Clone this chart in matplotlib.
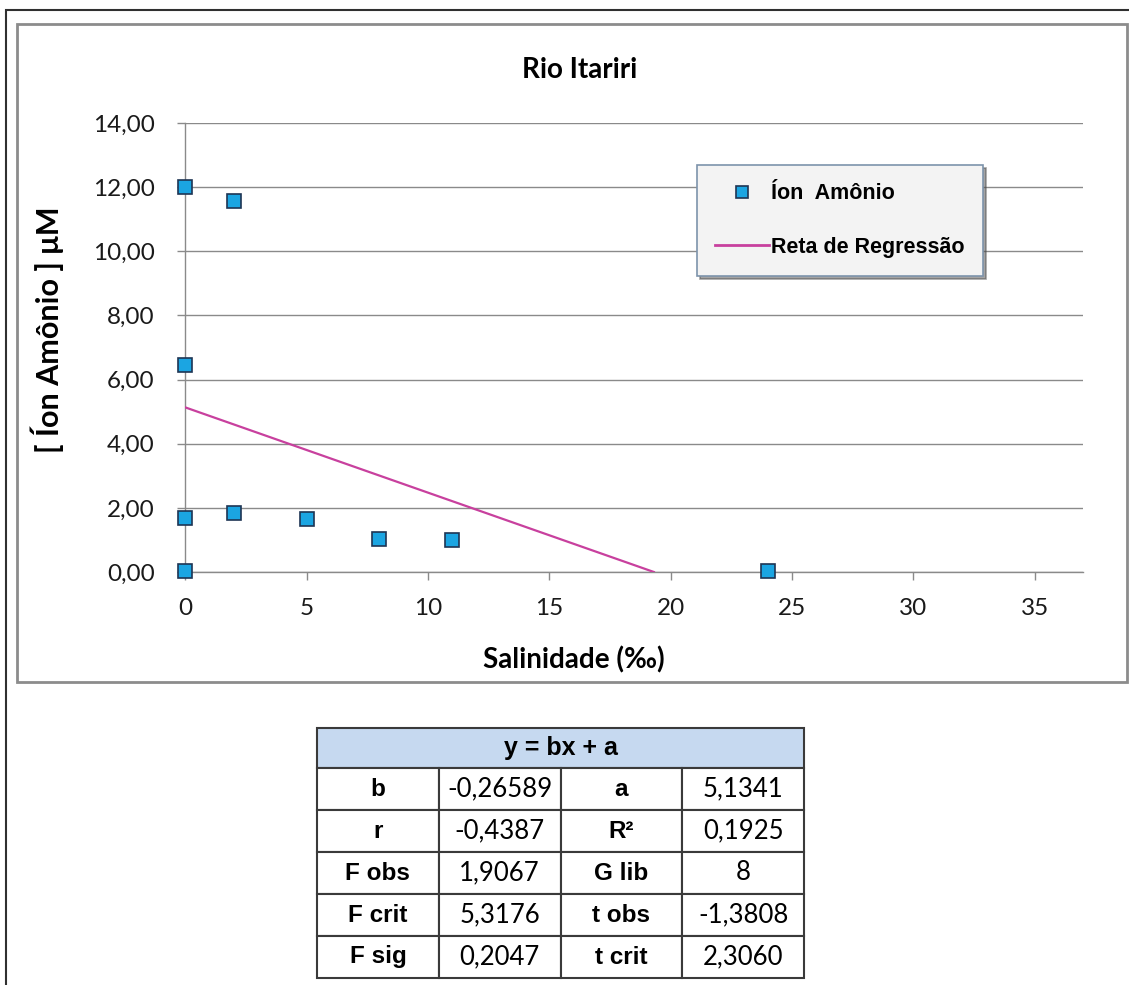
import matplotlib

matplotlib.use("Agg")

import matplotlib.pyplot as plt
import numpy as np
from matplotlib.lines import Line2D
from matplotlib.patches import Rectangle


TITLE = "Rio Itariri"
X_LABEL = "Salinidade (‰)"
Y_LABEL = "[ Íon Amônio ] μM"

SALINITY = [0, 2, 0, 0, 2, 5, 8, 11, 0, 24]
AMMONIUM = [12.0, 11.56, 6.47, 1.68, 1.84, 1.65, 1.03, 1.0, 0.04, 0.03]

SLOPE_B = -0.26589
INTERCEPT_A = 5.1341

X_TICKS = [0, 5, 10, 15, 20, 25, 30, 35]
Y_TICKS = [0, 2, 4, 6, 8, 10, 12, 14]

TABLE_HEADER = "y = bx + a"
TABLE_ROWS = [
    ["b", "-0,26589", "a", "5,1341"],
    ["r", "-0,4387", "R²", "0,1925"],
    ["F obs", "1,9067", "G lib", "8"],
    ["F crit", "5,3176", "t obs", "-1,3808"],
    ["F sig", "0,2047", "t crit", "2,3060"],
]

LEGEND_LABELS = ["Íon  Amônio", "Reta de Regressão"]

MARKER_FACE = "#1BA5E2"
MARKER_EDGE = "#1E3554"
LINE_COLOR = "#C8409E"
GRID_COLOR = "#8A8A8A"

NUM_FONT = "Lato"
BOLD_FONT = "Liberation Sans"


def main() -> None:
    fig = plt.figure(figsize=(11.29, 9.85), dpi=100)
    fig.patch.set_facecolor("white")

    # outer frame and chart area frame
    fig.patches.append(
        Rectangle(
            (6 / 1129, -0.2),
            1.2,
            0.2 + (985 - 10) / 985,
            transform=fig.transFigure,
            fill=False,
            edgecolor="#303030",
            linewidth=1.5,
        )
    )
    fig.patches.append(
        Rectangle(
            (17 / 1129, (985 - 682) / 985),
            (1127 - 17) / 1129,
            (682 - 24) / 985,
            transform=fig.transFigure,
            fill=False,
            edgecolor="#8C8C8C",
            linewidth=2,
        )
    )

    ax = fig.add_axes([0.1640, 0.4193, 0.7955, 0.4558])

    ax.plot(
        SALINITY,
        AMMONIUM,
        linestyle="none",
        marker="s",
        markersize=10,
        markerfacecolor=MARKER_FACE,
        markeredgecolor=MARKER_EDGE,
        markeredgewidth=1.2,
        clip_on=False,
        zorder=5,
    )

    x_line = np.array([0.0, -INTERCEPT_A / SLOPE_B])
    ax.plot(
        x_line,
        INTERCEPT_A + SLOPE_B * x_line,
        color=LINE_COLOR,
        linewidth=1.6,
        zorder=4,
    )

    ax.set_xlim(0, 37)
    ax.set_ylim(0, 14)
    ax.set_xticks(X_TICKS)
    ax.set_yticks(Y_TICKS)
    ax.set_xticklabels([str(t) for t in X_TICKS])
    ax.set_yticklabels([f"{t:.2f}".replace(".", ",") for t in Y_TICKS])

    for side in ["top", "right"]:
        ax.spines[side].set_visible(False)
    for side in ["left", "bottom"]:
        ax.spines[side].set_color(GRID_COLOR)
        ax.spines[side].set_linewidth(1)

    ax.tick_params(
        axis="both",
        direction="out",
        length=6,
        width=1,
        color=GRID_COLOR,
        labelsize=17.5,
        labelcolor="#1A1A1A",
    )
    ax.tick_params(axis="y", pad=16)
    ax.tick_params(axis="x", pad=13)
    for label in ax.get_xticklabels() + ax.get_yticklabels():
        label.set_fontfamily(NUM_FONT)

    ax.grid(axis="y", color=GRID_COLOR, linewidth=1)
    ax.set_axisbelow(True)

    fig.text(
        580 / 1129,
        (985 - 70) / 985,
        TITLE,
        ha="center",
        va="center",
        fontsize=20,
        fontweight="bold",
        fontfamily=NUM_FONT,
    )
    fig.text(
        574 / 1129,
        (985 - 660) / 985,
        X_LABEL,
        ha="center",
        va="center",
        fontsize=20,
        fontweight="bold",
        fontfamily=NUM_FONT,
    )
    fig.text(
        47 / 1129,
        (985 - 330) / 985,
        Y_LABEL,
        ha="center",
        va="center",
        rotation=90,
        fontsize=22,
        fontweight="bold",
        fontfamily=NUM_FONT,
    )

    handles = [
        Line2D(
            [],
            [],
            linestyle="none",
            marker="s",
            markersize=9,
            markerfacecolor=MARKER_FACE,
            markeredgecolor=MARKER_EDGE,
            markeredgewidth=1.2,
        ),
        Line2D([], [], color=LINE_COLOR, linewidth=2),
    ]
    legend = ax.legend(
        handles,
        LEGEND_LABELS,
        loc="upper left",
        bbox_to_anchor=(697 / 1129, (985 - 165) / 985),
        bbox_transform=fig.transFigure,
        prop={"family": BOLD_FONT, "weight": "bold", "size": 15.5},
        fancybox=False,
        shadow=True,
        framealpha=1,
        facecolor="#F3F3F3",
        edgecolor="#7D93AB",
        handlelength=2.5,
        handletextpad=0.1,
        labelspacing=1.5,
        borderpad=0.85,
        borderaxespad=0,
    )
    legend.get_frame().set_linewidth(1.2)

    # statistics table
    ax_tab = fig.add_axes([317 / 1129, 7 / 985, 487 / 1129, 250 / 985])
    ax_tab.axis("off")

    header = ax_tab.table(
        cellText=[[TABLE_HEADER]],
        cellLoc="center",
        bbox=[0, 0.84, 1, 0.16],
    )
    header.auto_set_font_size(False)
    for cell in header.get_celld().values():
        cell.set_facecolor("#C6D9F0")
        cell.set_edgecolor("#3A3A3A")
        cell.set_linewidth(1.5)
        cell.set_text_props(
            fontfamily=BOLD_FONT,
            fontweight="bold",
            fontsize=18,
        )

    body = ax_tab.table(
        cellText=TABLE_ROWS,
        cellLoc="center",
        bbox=[0, 0, 1, 0.84],
    )
    body.auto_set_font_size(False)
    for (row, col), cell in body.get_celld().items():
        cell.set_edgecolor("#3A3A3A")
        cell.set_linewidth(1.5)
        if col in (0, 2):
            cell.set_text_props(
                fontfamily=BOLD_FONT,
                fontweight="bold",
                fontsize=17.5,
            )
        else:
            cell.set_text_props(
                fontfamily=NUM_FONT,
                fontsize=18.5,
            )

    fig.savefig("out.png", dpi=100)
    plt.close(fig)


if __name__ == "__main__":
    main()
